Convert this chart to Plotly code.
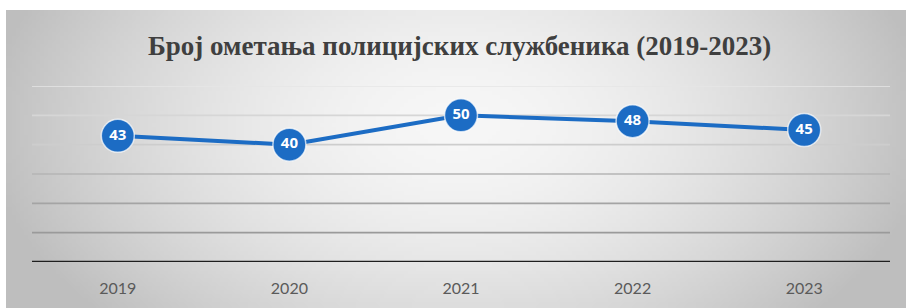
import base64, struct, zlib
import numpy as np
import plotly.graph_objects as go

# ---- data ----
years = ["2019", "2020", "2021", "2022", "2023"]
values = [43, 40, 50, 48, 45]
grid_values = [0, 10, 20, 30, 40, 50, 60]
grid_colors = ["#1e1e1e", "#9a9a9a", "#a4a4a4", "#b4b4b4", "#cdcdcd", "#d6d6d6", "#e6e6e6"]
title_text = "Број ометања полицијских службеника (2019-2023)"

W, H = 906, 308
L, R, T, B = 32, 16, 86, 46
plot_w = W - L - R
plot_h = H - T - B


def png_data_uri(arr):
    h, w = arr.shape
    raw = b"".join(b"\x00" + arr[i].astype(np.uint8).tobytes() for i in range(h))
    def chunk(tag, data):
        c = struct.pack(">I", len(data)) + tag + data
        return c + struct.pack(">I", zlib.crc32(tag + data) & 0xffffffff)
    png = b"\x89PNG\r\n\x1a\n" + chunk(b"IHDR", struct.pack(">IIBBBBB", w, h, 8, 0, 0, 0, 0)) \
        + chunk(b"IDAT", zlib.compress(raw, 9)) + chunk(b"IEND", b"")
    return "data:image/png;base64," + base64.b64encode(png).decode()


# background gradient (decorative)
gw, gh = 225, 75
yy, xx = np.mgrid[0:gh, 0:gw]
cx, cy = gw * 0.5, gh * 0.38
d = np.sqrt(((xx - cx) / (gw * 0.5)) ** 2 + ((yy - cy) / (gh * 0.62)) ** 2 * 0.45)
grad = np.clip(247 - 52 * d ** 1.7, 190, 250)
bg_uri = png_data_uri(grad)

fig = go.Figure()
fig.add_trace(go.Scatter(
    x=years, y=values,
    mode="lines+markers+text",
    line=dict(color="#1c6cc4", width=4),
    marker=dict(size=33, color="#1c6cc4", line=dict(color="rgba(255,255,255,0.7)", width=1.5)),
    text=[str(v) for v in values],
    textposition="middle center",
    textfont=dict(family="Open Sans", size=15, color="white", weight="bold"),
    cliponaxis=False,
    hoverinfo="skip",
))

shapes = []
for gv, gc in zip(grid_values, grid_colors):
    shapes.append(dict(type="line", xref="paper", yref="y", x0=0, x1=1, y0=gv, y1=gv,
                       line=dict(color=gc, width=2.5 if gv == 0 else 1.6), layer="below"))

fig.update_layout(
    width=W, height=H,
    margin=dict(l=L, r=R, t=T, b=B),
    paper_bgcolor="white",
    plot_bgcolor="rgba(0,0,0,0)",
    showlegend=False,
    shapes=shapes,
    images=[dict(source=bg_uri, xref="paper", yref="paper",
                 x=(6 - L) / plot_w, y=(H - B - 10) / plot_h,
                 sizex=(W - 6) / plot_w, sizey=(H - 10) / plot_h,
                 sizing="stretch", layer="below", xanchor="left", yanchor="top")],
    annotations=[dict(text="<b>" + title_text + "</b>", xref="paper", yref="paper",
                      x=(459 - L) / plot_w, y=(H - B - 46) / plot_h,
                      xanchor="center", yanchor="middle", showarrow=False,
                      font=dict(family="Liberation Serif", size=27, color="#3f3f3f"))],
    xaxis=dict(type="category", range=[-0.5, 4.5], showgrid=False, zeroline=False,
               showline=False, ticks="", ticklabelstandoff=15,
               tickfont=dict(family="Lato", size=16, color="#5a5a5a"),
               fixedrange=True),
    yaxis=dict(range=[0, 60], showgrid=False, zeroline=False, showline=False,
               showticklabels=False, fixedrange=True),
)

fig.write_html("out.html", config={"displayModeBar": False},
               post_script="document.body.style.margin='0';")
